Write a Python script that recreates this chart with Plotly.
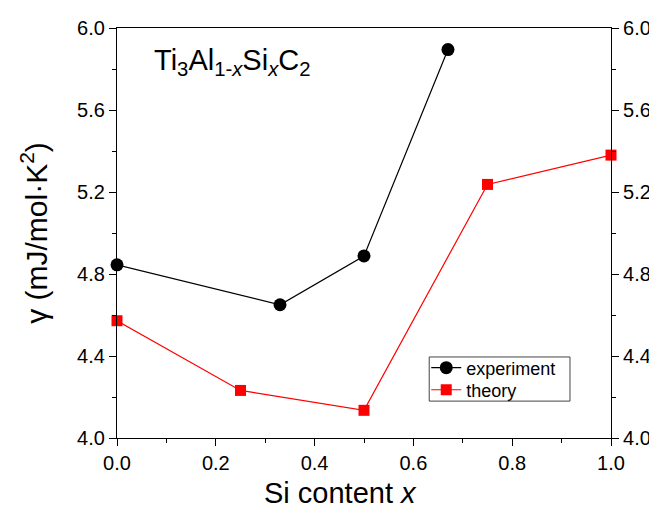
import plotly.graph_objects as go

x_exp = [0.0, 0.33, 0.5, 0.67]
y_exp = [4.845, 4.65, 4.888, 5.895]
x_th = [0.0, 0.25, 0.5, 0.75, 1.0]
y_th = [4.572, 4.232, 4.135, 5.237, 5.38]

FONT = "Arial, Liberation Sans, sans-serif"

fig = go.Figure()
fig.add_trace(go.Scatter(x=x_exp, y=y_exp, mode="lines+markers", name="experiment",
                         line=dict(color="black", width=1.2),
                         marker=dict(symbol="circle", size=13, color="black"),
                         cliponaxis=False, legend="legend"))
fig.add_trace(go.Scatter(x=x_th, y=y_th, mode="lines+markers", name="theory",
                         line=dict(color="red", width=1.2),
                         marker=dict(symbol="square", size=11, color="red"),
                         cliponaxis=False, legend="legend2"))
# invisible trace to activate right axis
fig.add_trace(go.Scatter(x=[0], y=[5], yaxis="y2", mode="markers",
                         marker=dict(opacity=0), showlegend=False, hoverinfo="skip"))

axis_common = dict(showgrid=False, zeroline=False, linecolor="black", linewidth=1.2,
                   ticks="outside", ticklen=7, tickwidth=1.2, tickcolor="black",
                   automargin=False,
                   tickfont=dict(family=FONT, size=20, color="black"))
minor_common = dict(ticks="outside", ticklen=4, tickcolor="black", tickwidth=1.2)
leg_common = dict(xanchor="left", yanchor="middle", bgcolor="rgba(0,0,0,0)", borderwidth=0,
                  font=dict(family=FONT, size=18), itemwidth=30)

# page body has an 8px default margin, so the figure is offset by 8px
fig.update_layout(
    width=649, height=504,
    margin=dict(l=109, r=46, t=20, b=74),
    paper_bgcolor="white", plot_bgcolor="white",
    font=dict(family=FONT, color="black"),
    xaxis=dict(range=[0, 1], dtick=0.2, tickformat=".1f", mirror=True,
               minor=dict(dtick=0.1, **minor_common),
               **axis_common),
    yaxis=dict(range=[4.0, 6.0], dtick=0.4, tickformat=".1f",
               minor=dict(dtick=0.2, **minor_common),
               title=dict(text="γ (mJ/mol·K<sup>2</sup>)", font=dict(family=FONT, size=30), standoff=20),
               **axis_common),
    yaxis2=dict(range=[4.0, 6.0], dtick=0.4, tickformat=".1f", overlaying="y", side="right",
                minor=dict(dtick=0.2, **minor_common),
                **axis_common),
    legend=dict(x=0.626, y=0.1707, **leg_common),
    legend2=dict(x=0.626, y=0.117, **leg_common),
    showlegend=True,
    shapes=[dict(type="rect", xref="paper", yref="paper", x0=0.632, x1=0.917, y0=0.090, y1=0.1976,
                 line=dict(color="#444", width=1), fillcolor="rgba(0,0,0,0)", layer="below")],
    annotations=[
        dict(text="Ti<sub>3</sub>Al<sub>1-<i>x</i></sub>Si<sub><i>x</i></sub>C<sub>2</sub>",
             xref="paper", yref="paper", x=0.071, y=0.966, xanchor="left", yanchor="top",
             showarrow=False, font=dict(family=FONT, size=29)),
        dict(text="Si content <i>x</i>", xref="paper", yref="paper", x=0.453, y=-0.134,
             xanchor="center", yanchor="middle", showarrow=False, font=dict(family=FONT, size=29)),
    ],
)

fig.write_html("out.html")
